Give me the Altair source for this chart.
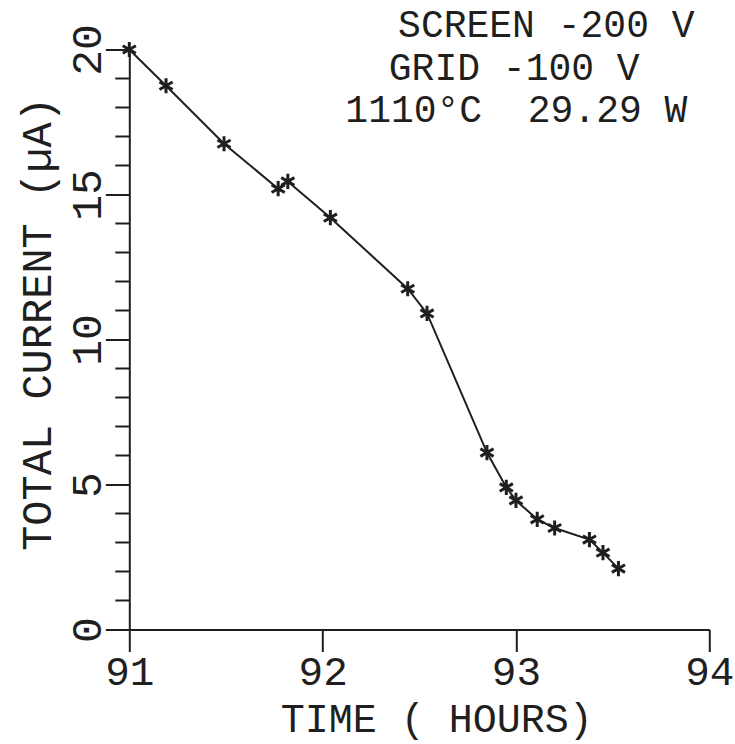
import altair as alt
import pandas as pd

# data
time_hours = [91.0, 91.19, 91.49, 91.77, 91.82, 92.04, 92.44, 92.54,
              92.85, 92.95, 93.0, 93.11, 93.2, 93.38, 93.45, 93.53]
current_ua = [20.0, 18.75, 16.75, 15.2, 15.45, 14.2, 11.75, 10.9,
              6.1, 4.9, 4.45, 3.8, 3.5, 3.1, 2.65, 2.1]

x_ticks = [91, 92, 93, 94]
y_major = [0, 5, 10, 15, 20]
y_minor = [1, 2, 3, 4, 6, 7, 8, 9, 11, 12, 13, 14, 16, 17, 18, 19]

ann_text = ["SCREEN -200 V", "GRID -100 V", "1110°C\u00a0\u00a029.29 W"]
ann_x = [93.157, 92.991, 93.002]
ann_y = [20.43, 18.95, 17.5]

df = pd.DataFrame({"t": time_hours, "i": current_ua})
ann = pd.DataFrame({"text": ann_text, "x": ann_x, "y": ann_y})
minor = pd.DataFrame({"v": y_minor})

FONT = "Liberation Mono"
INK = "#1f1f1f"
STAR = "M0,-1L0,1M-0.866,-0.5L0.866,0.5M-0.866,0.5L0.866,-0.5"

x_enc = alt.X(
    "t:Q",
    scale=alt.Scale(domain=[91, 94], nice=False, zero=False),
    axis=alt.Axis(
        values=x_ticks, format="d", title="TIME ( HOURS)",
        tickSize=22, tickWidth=2, tickColor=INK,
        domainColor=INK, domainWidth=2,
        labelFont=FONT, labelFontSize=41, labelColor=INK,
        labelPadding=1, labelFlush=False, labelOverlap=False,
        titleFont=FONT, titleFontSize=40, titleFontWeight="normal", titleColor=INK,
        titleX=307, titleY=102, titleAlign="center", titleBaseline="alphabetic",
        grid=False,
    ),
)
y_enc = alt.Y(
    "i:Q",
    scale=alt.Scale(domain=[0, 20], nice=False),
    axis=alt.Axis(
        values=y_major, title="TOTAL CURRENT (µA)",
        tickSize=24, tickWidth=2, tickColor=INK,
        domainColor=INK, domainWidth=2,
        labelFont=FONT, labelFontSize=43, labelColor=INK,
        labelAngle=270, labelAlign="center", labelBaseline="alphabetic",
        labelPadding=5, labelFlush=False, labelOverlap=False,
        titleFont=FONT, titleFontSize=42, titleFontWeight="normal", titleColor=INK,
        titleAngle=270, titleX=-79, titleY=274, titleAlign="center",
        titleBaseline="alphabetic",
        grid=False,
    ),
)

line = alt.Chart(df).mark_line(color=INK, strokeWidth=2).encode(x=x_enc, y=y_enc)
pts = alt.Chart(df).mark_point(
    shape=STAR, size=230, filled=False, stroke=INK, strokeWidth=3, opacity=1
).encode(x="t:Q", y="i:Q")

minor_ticks = alt.Chart(minor).mark_rule(color=INK, strokeWidth=2).encode(
    y="v:Q", x=alt.value(-14), x2=alt.value(0)
)

labels = alt.Chart(ann).mark_text(
    font=FONT, fontSize=38, color=INK, align="center", baseline="alphabetic"
).encode(x="x:Q", y="y:Q", text="text:N")

chart = alt.layer(line, pts, minor_ticks, labels).properties(
    width=580, height=580,
    autosize=alt.AutoSizeParams(type="none"),
    padding={"left": 129.3, "top": 49.5, "right": 25.7, "bottom": 114.5},
    background="white",
).configure_view(stroke=None)

chart.save("out.html", embed_options={"renderer": "svg", "actions": False})
